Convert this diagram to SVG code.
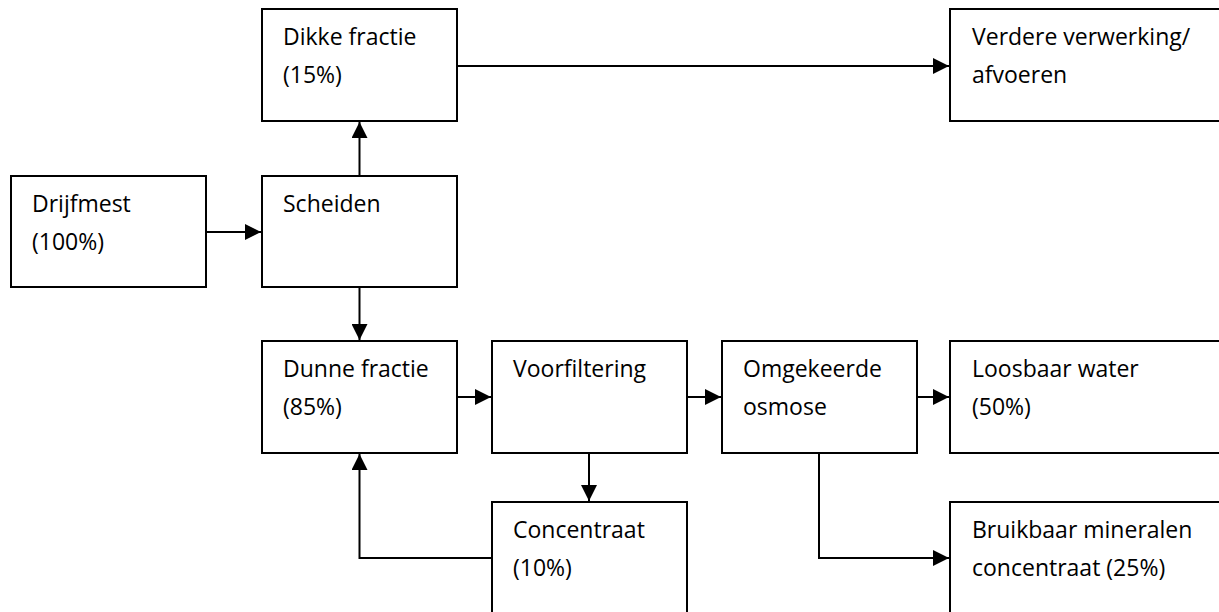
<svg xmlns="http://www.w3.org/2000/svg" width="1219" height="612" viewBox="0 0 1219 612">
<style>
.box{fill:#fff;stroke:#000;stroke-width:2}
.lbl{font-family:"Open Sans","Liberation Sans",sans-serif;font-size:23px;fill:#000}
.con{fill:none;stroke:#000;stroke-width:2}
</style>
<defs>
<marker id="arr" markerUnits="userSpaceOnUse" markerWidth="16" markerHeight="16" refX="16" refY="8" orient="auto">
<path d="M0,0 L16,8 L0,16 z" fill="#000"/>
</marker>
</defs>
<rect width="1219" height="612" fill="#fff"/>
<g id="connectors">
<path class="con" d="M206,232 H261" marker-end="url(#arr)"/>
<path class="con" d="M359.5,176 V122" marker-end="url(#arr)"/>
<path class="con" d="M457,66 H949" marker-end="url(#arr)"/>
<path class="con" d="M359.5,287 V340" marker-end="url(#arr)"/>
<path class="con" d="M457,397 H491" marker-end="url(#arr)"/>
<path class="con" d="M687,397 H721" marker-end="url(#arr)"/>
<path class="con" d="M589,453 V501" marker-end="url(#arr)"/>
<path class="con" d="M492,558 H359.5 V454" marker-end="url(#arr)"/>
<path class="con" d="M917,397 H949" marker-end="url(#arr)"/>
<path class="con" d="M819,453 V558 H949" marker-end="url(#arr)"/>
</g>
<g id="drijfmest">
<rect class="box" x="11" y="176" width="195" height="111"/>
<text class="lbl" x="32" y="212">Drijfmest</text>
<text class="lbl" x="32" y="250">(100%)</text>
</g>
<g id="scheiden">
<rect class="box" x="262" y="176" width="195" height="111"/>
<text class="lbl" x="283" y="212">Scheiden</text>
</g>
<g id="dikke-fractie">
<rect class="box" x="262" y="9" width="195" height="112"/>
<text class="lbl" x="283" y="45">Dikke fractie</text>
<text class="lbl" x="283" y="83">(15%)</text>
</g>
<g id="verdere-verwerking">
<rect class="box" x="950" y="9" width="290" height="112"/>
<text class="lbl" x="972" y="45">Verdere verwerking/</text>
<text class="lbl" x="972" y="83">afvoeren</text>
</g>
<g id="dunne-fractie">
<rect class="box" x="262" y="341" width="195" height="112"/>
<text class="lbl" x="283" y="377">Dunne fractie</text>
<text class="lbl" x="283" y="415">(85%)</text>
</g>
<g id="voorfiltering">
<rect class="box" x="492" y="341" width="195" height="112"/>
<text class="lbl" x="513" y="377">Voorfiltering</text>
</g>
<g id="omgekeerde-osmose">
<rect class="box" x="722" y="341" width="195" height="112"/>
<text class="lbl" x="743" y="377">Omgekeerde</text>
<text class="lbl" x="743" y="415">osmose</text>
</g>
<g id="loosbaar-water">
<rect class="box" x="950" y="341" width="290" height="112"/>
<text class="lbl" x="972" y="377">Loosbaar water</text>
<text class="lbl" x="972" y="415">(50%)</text>
</g>
<g id="concentraat">
<rect class="box" x="492" y="502" width="195" height="130"/>
<text class="lbl" x="513" y="538">Concentraat</text>
<text class="lbl" x="513" y="576">(10%)</text>
</g>
<g id="bruikbaar-mineralen-concentraat">
<rect class="box" x="950" y="502" width="290" height="130"/>
<text class="lbl" x="972" y="538">Bruikbaar mineralen</text>
<text class="lbl" x="972" y="576">concentraat (25%)</text>
</g>
</svg>
